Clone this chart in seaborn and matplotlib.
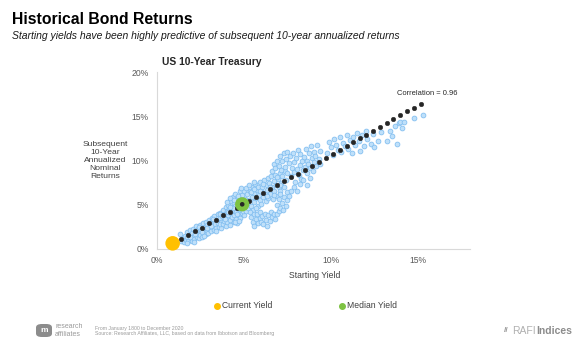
import matplotlib
matplotlib.use("Agg")
import matplotlib.pyplot as plt
import seaborn as sns
import pandas as pd
from matplotlib.patches import FancyBboxPatch
from matplotlib.lines import Line2D

# ---------------- data ----------------
pts = [
    # lower start
    (1.35,1.7),(1.4,0.9),(1.5,1.2),(1.55,0.8),(1.6,1.5),(1.65,1.0),(1.7,1.9),(1.75,1.3),(1.8,0.9),
    (1.85,1.6),(1.9,2.1),(1.95,1.2),(2.0,1.8),(2.0,0.95),(2.05,2.3),(2.1,1.5),(2.15,1.1),(2.2,2.0),
    (2.25,2.6),(2.3,1.4),(2.3,1.8),(2.35,2.3),(2.4,1.2),(2.45,2.0),(2.5,2.7),(2.5,1.6),
    (1.7,0.7),(1.9,1.4),(2.1,0.8),(2.2,1.7),(2.4,2.5),(2.6,1.3),(2.7,2.2),(2.8,1.7),
    (2.55,2.2),(2.6,1.9),(2.65,2.9),(2.7,1.5),(2.75,2.5),(2.8,3.1),(2.85,2.0),(2.9,2.7),(2.95,1.8),
    (3.0,3.3),(3.0,2.3),(3.05,2.9),(3.1,2.0),(3.15,3.5),(3.2,2.6),(3.25,3.1),(3.3,2.2),(3.3,3.7),
    (3.35,2.8),(3.4,2.4),(3.45,3.3),(3.5,3.9),(3.5,2.9),(3.55,2.5),(3.6,3.5),(3.65,4.1),(3.7,3.0),(3.7,2.4),
    (2.9,2.4),(3.1,2.6),(3.2,3.4),(3.4,2.0),(3.6,2.8),(3.6,3.9),
    # middle
    (3.75,3.7),(3.8,4.4),(3.8,2.8),(3.85,3.2),(3.9,4.0),(3.95,4.8),(3.95,2.6),(4.0,3.5),(4.0,4.3),
    (4.05,3.0),(4.1,5.0),(4.1,3.8),(4.15,4.5),(4.2,2.7),(4.2,3.3),(4.25,5.4),(4.25,4.1),(4.3,3.6),
    (4.3,4.8),(4.35,5.9),(4.4,3.1),(4.4,4.4),(4.45,5.2),(4.45,3.8),(4.5,6.2),(4.5,4.9),(4.55,3.4),
    (4.55,4.2),(4.6,5.6),(4.6,2.9),(4.65,4.6),(4.7,5.1),(4.7,3.8),(4.75,6.5),(4.75,4.3),(4.8,5.8),
    (4.8,3.5),(4.85,4.9),(4.9,4.1),(4.9,6.1),(4.95,5.4),(5.0,4.6),(5.0,3.8),(5.0,6.6),
    (3.9,3.4),(4.0,5.3),(4.1,4.2),(4.2,5.8),(4.35,4.6),(4.4,5.5),(4.6,4.0),(4.65,6.0),(4.8,4.5),
    (4.85,6.9),(4.95,4.3),(4.2,4.8),(4.5,3.0),(4.7,3.2),
    # main cloud
    (5.05,5.7),(5.1,4.3),(5.1,6.9),(5.15,5.0),(5.2,6.2),(5.25,4.6),(5.3,7.2),(5.3,5.5),(5.35,6.6),
    (5.4,4.9),(5.45,5.9),(5.5,7.0),(5.5,4.4),(5.55,6.3),(5.6,5.3),(5.65,7.3),(5.7,5.8),(5.75,6.7),
    (5.8,4.9),(5.8,7.0),(5.85,6.1),(5.9,5.5),(5.95,7.6),(6.0,6.5),(6.0,5.1),(6.05,7.0),(6.1,5.9),
    (6.15,7.8),(6.2,6.3),(6.25,5.4),(6.3,7.2),(6.35,6.7),(6.4,8.0),(6.4,5.8),(6.45,7.5),(6.5,6.2),
    (6.55,8.3),(6.6,7.0),(6.65,5.6),(6.7,7.7),(6.75,6.5),(6.8,8.4),(6.85,7.2),(6.9,6.0),(6.95,7.9),
    (7.0,7.0),(7.05,8.6),(7.1,6.5),(7.15,7.5),(7.2,8.2),(7.3,7.0),(7.35,8.8),(7.4,7.8),
    (5.2,5.2),(5.4,6.4),(5.6,6.8),(5.7,4.6),(5.9,6.6),(6.1,7.3),(6.3,6.0),(6.5,7.0),(6.7,6.1),
    (6.9,8.1),(7.1,7.2),(5.35,4.2),(5.6,7.6),
    # lower lobe
    (5.4,3.6),(5.5,3.0),(5.55,4.0),(5.6,2.6),(5.7,3.4),(5.75,3.9),(5.8,2.9),(5.9,3.5),(5.95,4.2),
    (6.0,3.1),(6.05,3.7),(6.1,2.8),(6.2,4.0),(6.25,3.3),(6.3,2.6),(6.4,3.8),(6.5,3.2),(6.55,4.2),
    (6.6,3.6),(6.7,4.0),(6.8,3.4),(6.9,3.9),(7.0,4.3),
    (6.9,5.0),(7.0,5.6),(7.05,4.6),(7.1,6.2),(7.2,5.2),(7.25,4.4),(7.3,5.9),(7.4,4.9),(7.45,6.4),
    (7.5,5.5),(7.6,6.0),(7.7,6.6),
    # upper cloud
    (6.6,8.8),(6.7,9.6),(6.8,9.2),(6.9,10.0),(7.0,9.4),(7.1,10.5),(7.15,8.9),(7.2,9.9),(7.3,10.8),
    (7.35,9.3),(7.4,10.2),(7.5,11.0),(7.5,8.6),(7.6,9.7),(7.65,10.5),(7.7,8.2),(7.75,9.1),(7.8,10.9),
    (7.85,8.7),(7.9,9.8),(7.95,7.6),(8.0,10.3),(8.05,9.0),(8.1,11.2),(8.15,8.4),(8.2,9.5),(8.25,10.7),
    (8.3,7.9),(8.35,9.9),(8.4,8.9),(8.45,10.4),(8.5,9.3),(8.55,11.3),(8.6,8.6),(8.65,10.0),(8.7,9.6),
    (8.75,10.9),(8.8,9.1),(8.85,11.6),(8.9,10.3),(8.95,8.8),(9.0,9.8),(9.05,11.0),(9.1,10.5),
    (9.15,9.4),(9.2,11.8),(9.3,10.2),(9.35,9.6),(9.4,11.1),
    (7.9,7.0),(8.05,6.6),(8.2,7.4),(8.4,7.8),(8.6,7.2),(8.8,8.0),
    # right spread
    (9.8,10.9),(9.9,12.1),(10.0,11.5),(10.1,10.6),(10.2,12.4),(10.3,11.8),(10.4,11.2),(10.5,12.6),
    (10.6,11.0),(10.7,12.0),(10.8,11.6),(10.9,12.9),(11.0,11.3),(11.1,12.3),(11.2,10.8),(11.3,12.7),
    (11.4,11.7),(11.5,13.1),(11.6,12.2),(11.7,11.1),(11.8,12.9),(11.9,11.6),(12.0,13.3),(12.1,12.4),
    (12.3,11.9),(12.4,13.0),(12.5,11.5),(12.7,12.2),(12.9,13.2),
    (13.2,12.2),(13.4,13.3),(13.5,12.8),(13.7,13.9),(13.8,11.9),(13.9,14.2),(14.0,14.3),(14.1,13.7),
    (14.2,14.4),(14.8,14.8),(15.3,15.1),
]
starting_yield = [p[0] for p in pts]
subsequent_return = [p[1] for p in pts]

fit_x = [1.4, 1.8, 2.2, 2.6, 3.0, 3.4, 3.8, 4.2, 4.6, 4.9, 5.3, 5.7, 6.1, 6.5, 6.9, 7.3, 7.7, 8.1,
         8.5, 8.9, 9.3, 9.7, 10.1, 10.5, 10.9, 11.3, 11.7, 12.0, 12.4, 12.8, 13.2, 13.6, 14.0, 14.4, 14.8, 15.2]
fit_y = [1.1, 1.55, 2.0, 2.4, 2.9, 3.3, 3.8, 4.2, 4.65, 5.0, 5.45, 5.9, 6.3, 6.75, 7.2, 7.65, 8.1, 8.5,
         8.95, 9.4, 9.85, 10.3, 10.75, 11.2, 11.65, 12.1, 12.55, 12.9, 13.3, 13.75, 14.2, 14.65, 15.1, 15.55, 15.95, 16.4]

current_yield = (0.9, 0.64)
median_yield = (4.9, 5.05)

x_ticks = [0, 5, 10, 15]
y_ticks = [0, 5, 10, 15, 20]
correlation_text = "Correlation = 0.96"

# ---------------- style ----------------
sns.set_style("white")
plt.rcParams['font.family'] = ['Liberation Sans', 'DejaVu Sans']

W, H = 587, 349
fig = plt.figure(figsize=(W / 100, H / 100), dpi=100)
ax = fig.add_axes([157 / W, 1 - 249 / H, (470 - 157) / W, (249 - 72) / H])

df = pd.DataFrame({"x": starting_yield, "y": subsequent_return})
sns.scatterplot(data=df, x="x", y="y", ax=ax, s=12, color="#bfe0fa",
                edgecolor="#7fbdf0", linewidth=0.55, zorder=2, legend=False)
sns.scatterplot(x=fit_x, y=fit_y, ax=ax, s=11, color="#262626", edgecolor="#262626",
                linewidth=0.3, zorder=3, legend=False)
sns.scatterplot(x=[median_yield[0]], y=[median_yield[1]], ax=ax, s=105, color="#7dc242",
                edgecolor="none", zorder=4, legend=False)
sns.scatterplot(x=[median_yield[0]], y=[median_yield[1]], ax=ax, s=11, color="#262626",
                edgecolor="none", zorder=5, legend=False)
sns.scatterplot(x=[current_yield[0]], y=[current_yield[1]], ax=ax, s=110, color="#ffc000",
                edgecolor="none", zorder=4, legend=False, clip_on=False)

ax.set_xlim(0, 18)
ax.set_ylim(0, 20)
ax.set_xticks(x_ticks)
ax.set_xticklabels([f"{t}%" for t in x_ticks])
ax.set_yticks(y_ticks)
ax.set_yticklabels([f"{t}%" for t in y_ticks])
ax.tick_params(axis="both", length=0, labelsize=6.2, labelcolor="#595959")
ax.tick_params(axis="x", pad=5)
ax.tick_params(axis="y", pad=6)
ax.set_xlabel("")
ax.set_ylabel("")
for s in ["top", "right"]:
    ax.spines[s].set_visible(False)
for s in ["left", "bottom"]:
    ax.spines[s].set_color("#d9d9d9")
    ax.spines[s].set_linewidth(0.8)

ax.text(0.96, 0.878, correlation_text, transform=ax.transAxes, ha="right", va="center",
        fontsize=5.4, color="#262626")


def px(x, y):
    return x / W, 1 - y / H


# titles
fig.text(*px(12, 19), "Historical Bond Returns", fontsize=11.3, fontweight="bold",
         color="#000000", ha="left", va="center")
fig.text(*px(12, 36), "Starting yields have been highly predictive of subsequent 10-year annualized returns",
         fontsize=7.5, style="italic", color="#1a1a1a", ha="left", va="center")
fig.text(*px(162, 62), "US 10-Year Treasury", fontsize=7.4, fontweight="bold",
         color="#262626", ha="left", va="center")

fig.text(*px(105, 160), "Subsequent\n10-Year\nAnnualized\nNominal\nReturns", fontsize=6.1,
         color="#404040", ha="center", va="center", linespacing=1.2)
fig.text(*px(315, 275), "Starting Yield", fontsize=6.2, color="#404040", ha="center", va="center")

# legend
x0, y0 = px(217, 305.5)
fig.add_artist(Line2D([x0], [y0], marker="o", markersize=4, color="#ffc000",
                      linestyle="none", transform=fig.transFigure))
fig.text(*px(222, 305.5), "Current Yield", fontsize=6.2, color="#404040", ha="left", va="center")
x1, y1 = px(342, 305.5)
fig.add_artist(Line2D([x1], [y1], marker="o", markersize=4, color="#7dc242",
                      linestyle="none", transform=fig.transFigure))
fig.text(*px(347, 305.5), "Median Yield", fontsize=6.2, color="#404040", ha="left", va="center")

# footer
logo = FancyBboxPatch(px(36, 337), 16 / W, 13 / H, boxstyle="round,pad=0,rounding_size=0.01",
                      transform=fig.transFigure, facecolor="#8c8c8c", edgecolor="none")
fig.add_artist(logo)
fig.text(*px(44, 331), "m", fontsize=6, fontweight="bold", color="white", ha="center", va="center")
fig.text(*px(55, 327), "research", fontsize=5, color="#9a9a9a", ha="left", va="center")
fig.text(*px(55, 334), "affiliates", fontsize=5, color="#9a9a9a", ha="left", va="center")
fig.text(*px(95, 328.5), "From January 1800 to December 2020", fontsize=3.7,
         color="#9a9a9a", ha="left", va="center")
fig.text(*px(95, 334), "Source: Research Affiliates, LLC, based on data from Ibbotson and Bloomberg",
         fontsize=3.7, color="#9a9a9a", ha="left", va="center")
fig.text(*px(512, 331), "RAFI", fontsize=7.5, color="#b0b0b0", ha="left", va="center")
fig.text(*px(536, 331), "Indices", fontsize=7.5, fontweight="bold", color="#8c8c8c", ha="left", va="center")
fig.text(*px(506, 331), "//", fontsize=6, fontweight="bold", color="#9a9a9a", ha="center", va="center")

fig.savefig("out.png", dpi=100, facecolor="white")
